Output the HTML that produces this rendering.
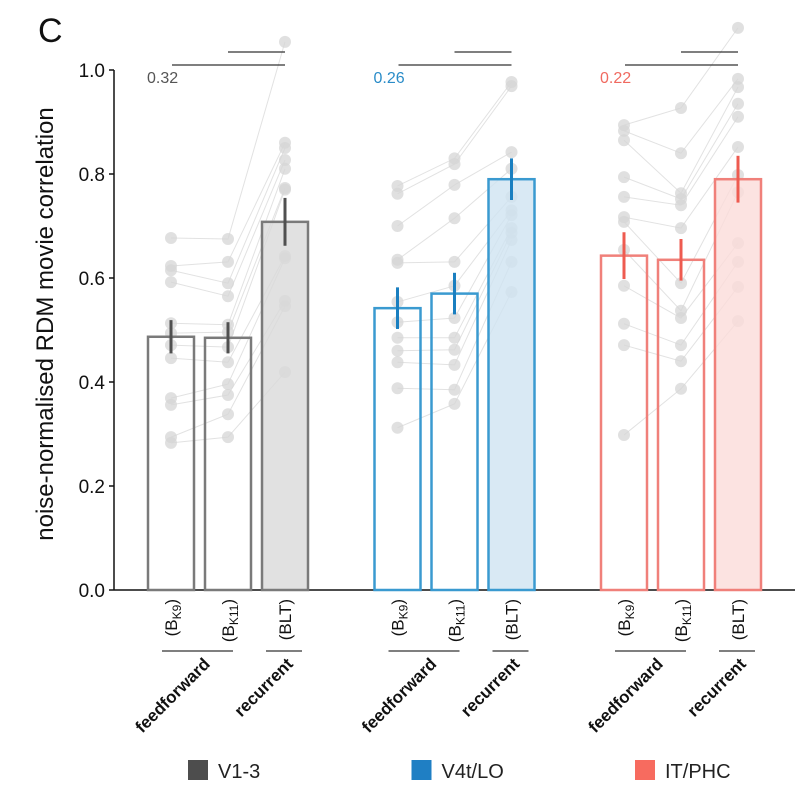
<!DOCTYPE html>
<html><head><meta charset="utf-8"><style>
html,body{margin:0;padding:0;background:#fff;}
svg{display:block;font-family:"Liberation Sans",sans-serif;}
</style></head><body>
<svg id="chart" width="808" height="796" viewBox="0 0 808 796" xmlns="http://www.w3.org/2000/svg">
<text x="38" y="42" font-size="34" fill="#111">C</text>
<g id="g-axes"></g>
<g id="g-lines"></g>
<g id="g-points"></g>
<g id="g-bars"></g>
<g id="g-err"></g>
<g id="g-labels"></g>
</svg>
<script>
const regions = ["V1-3","V4t/LO","IT/PHC"];
const models = ["BK9","BK11","BLT"];
const barMeans = [[0.487,0.485,0.708],[0.542,0.570,0.790],[0.643,0.635,0.790]];
const barErrs = [[0.032,0.030,0.046],[0.040,0.040,0.040],[0.045,0.040,0.045]];
const sigValues = ["0.32","0.26","0.22"];
const yTicks = [0.0,0.2,0.4,0.6,0.8,1.0];
const ptsV1 = [
 [0.677,0.623,0.615,0.592,0.513,0.494,0.471,0.446,0.369,0.356,0.294,0.283],
 [0.675,0.631,0.590,0.565,0.510,0.496,0.467,0.438,0.396,0.375,0.338,0.294],
 [1.054,0.860,0.850,0.827,0.810,0.773,0.770,0.642,0.638,0.556,0.546,0.419]];
const ptsV4 = [
 [0.777,0.762,0.700,0.635,0.629,0.554,0.515,0.485,0.460,0.438,0.388,0.312],
 [0.830,0.819,0.779,0.715,0.631,0.585,0.523,0.485,0.462,0.433,0.385,0.358],
 [0.977,0.969,0.842,0.810,0.756,0.730,0.721,0.696,0.687,0.673,0.631,0.573]];
const ptsIT = [
 [0.894,0.883,0.865,0.794,0.756,0.717,0.708,0.654,0.585,0.512,0.471,0.298],
 [0.927,0.840,0.763,0.752,0.740,0.696,0.590,0.537,0.523,0.471,0.440,0.387],
 [1.081,0.983,0.967,0.935,0.910,0.852,0.798,0.765,0.667,0.631,0.583,0.517]];
const allPts = [ptsV1, ptsV4, ptsIT];

const NS="http://www.w3.org/2000/svg";
const X0=114, Y0=590, PX=520;
const y = v => Y0 - v*PX;
const x = (g,m) => 171 + g*226.5 + m*57;
const BW=46;
const stroke=["#7a7a7a","#3a9ad0","#f0807a"];
const fill=["#d9d9d9","#cfe3f1","#fbdcd9"];
const errC=["#505050","#1a7fc0","#ee5b50"];
const sigC=["#555555","#2a8cc8","#f06a60"];
const legC=["#4d4d4d","#1f7fc4","#f76b5f"];
function el(tag,attrs,parent,text){const e=document.createElementNS(NS,tag);for(const k in attrs)e.setAttribute(k,attrs[k]);if(text!==undefined)e.textContent=text;parent.appendChild(e);return e;}
const gA=document.getElementById('g-axes'),gL=document.getElementById('g-lines'),gB=document.getElementById('g-bars'),gP=document.getElementById('g-points'),gE=document.getElementById('g-err'),gT=document.getElementById('g-labels');

let ax=el('line',{x1:X0,y1:y(1),x2:X0,y2:Y0,stroke:'#111','stroke-width':1.5},gA);


let bx=el('line',{x1:X0,y1:Y0,x2:795,y2:Y0,stroke:'#111','stroke-width':1.5},gA);


yTicks.forEach(t=>{
 el('line',{x1:X0-5,y1:y(t),x2:X0,y2:y(t),stroke:'#111','stroke-width':1.5},gA);
 let tl=el('text',{x:X0-9,y:y(t)+7,'font-size':19,'text-anchor':'end',fill:'#111'},gA,t.toFixed(1));
 
 
});
let yt=el('text',{x:0,y:0,'font-size':24,'text-anchor':'middle',fill:'#111',transform:'translate(53,324) rotate(-90)'},gA,'noise-normalised RDM movie correlation');



for(let g=0;g<3;g++){
 const P=allPts[g];
 for(let i=0;i<P[0].length;i++){
  el('polyline',{points:[0,1,2].map(m=>x(g,m)+','+y(P[m][i])).join(' '),fill:'none',stroke:'#e2e2e2','stroke-width':1},gL);
 }
 for(let m=0;m<3;m++){
  const b=el('rect',{x:x(g,m)-BW/2,y:y(barMeans[g][m]),width:BW,height:Y0-y(barMeans[g][m]),fill:m==2?fill[g]:'#fff','fill-opacity':m==2?0.8:0,stroke:stroke[g],'stroke-width':2.5},gB);
  
  
  P[m].forEach(v=>{
   const c=el('circle',{cx:x(g,m),cy:y(v),r:6,fill:'#d6d6d6','fill-opacity':0.75},gP);
   
   
  });
  const e=el('line',{x1:x(g,m),x2:x(g,m),y1:y(barMeans[g][m]+barErrs[g][m]),y2:y(barMeans[g][m]-barErrs[g][m]),stroke:errC[g],'stroke-width':3},gE);
  
  
  const cx=x(g,m), ty=599;
  const lab=el('text',{transform:`translate(${cx+6},${ty}) rotate(-90)`,'font-size':17,'text-anchor':'end',fill:'#111'},gT);
  
  
  if(m==2){lab.textContent='(BLT)';}
  else{
   el('tspan',{},lab,'(B');
   el('tspan',{'font-size':12,dy:4},lab,m==0?'K9':'K11');
   el('tspan',{dy:-4},lab,')');
  }
 }
 el('line',{x1:x(g,0)-9,x2:x(g,1)+5,y1:651,y2:651,stroke:'#333','stroke-width':1.2},gT);
 el('line',{x1:x(g,2)-19,x2:x(g,2)+17,y1:651,y2:651,stroke:'#333','stroke-width':1.2},gT);
 const ff=el('text',{transform:`translate(${x(g,0)+40},${665}) rotate(-45)`,'font-size':17,'font-weight':'bold','text-anchor':'end',fill:'#111'},gT,'feedforward');
 
 
 const rc=el('text',{transform:`translate(${x(g,2)+9},${665}) rotate(-45)`,'font-size':17,'font-weight':'bold','text-anchor':'end',fill:'#111'},gT,'recurrent');
 
 
 el('line',{x1:x(g,0)+1,x2:x(g,2),y1:65,y2:65,stroke:'#333','stroke-width':1.2},gT);
 el('line',{x1:x(g,1),x2:x(g,2),y1:52,y2:52,stroke:'#333','stroke-width':1.2},gT);
 const sv=el('text',{x:x(g,0)-24,y:83,'font-size':16,fill:sigC[g]},gT,sigValues[g]);
 
 
 const lx=188+g*223.5;
 const ls=el('rect',{x:lx,y:760,width:20,height:20,fill:legC[g]},gT);
 
 
 const lt=el('text',{x:lx+30,y:778,'font-size':20,fill:'#222'},gT,regions[g]);
 
 
}
</script>
</body></html>
